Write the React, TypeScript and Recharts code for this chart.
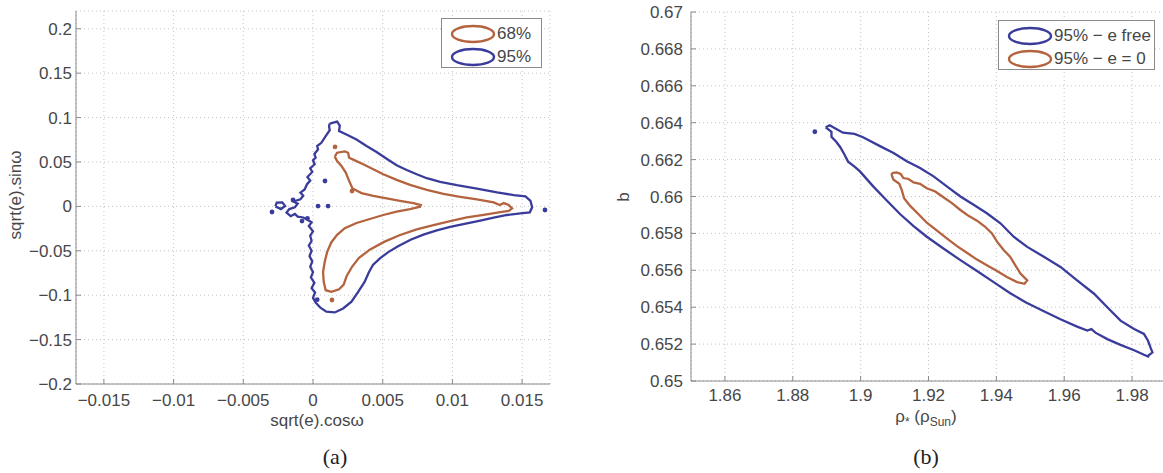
import React from "react";
import { ScatterChart, Scatter, XAxis, YAxis, CartesianGrid } from "recharts";

// ---- panel (a): eccentricity vector ----
const aXTicks = [-0.015, -0.01, -0.005, 0, 0.005, 0.01, 0.015];
const aYTicks = [-0.2, -0.15, -0.1, -0.05, 0, 0.05, 0.1, 0.15, 0.2];

// 95% contour (outer)
const a95: number[][] = [
  [0.0012, 0.0933], [0.00173, 0.0955], [0.00192, 0.091], [0.00187, 0.0847], [0.0024, 0.0809],
  [0.00312, 0.0753], [0.00384, 0.0679], [0.00456, 0.0612], [0.00528, 0.0537], [0.006, 0.0463],
  [0.00672, 0.041], [0.00744, 0.0362], [0.00816, 0.0317], [0.00912, 0.0276], [0.01032, 0.0239],
  [0.01176, 0.0201], [0.0132, 0.0157], [0.0144, 0.0127], [0.01524, 0.0112], [0.0156, 0.0063],
  [0.01572, -0.0011], [0.01555, -0.0067], [0.01488, -0.0078], [0.01392, -0.0097], [0.01296, -0.0127],
  [0.012, -0.016], [0.01104, -0.019], [0.00984, -0.023], [0.00888, -0.027], [0.00792, -0.0318],
  [0.007, -0.0375], [0.0061, -0.045], [0.0054, -0.0515], [0.0048, -0.0585], [0.0043, -0.066],
  [0.004, -0.0745], [0.0037, -0.085], [0.00324, -0.0962], [0.00276, -0.1074], [0.00216, -0.1149],
  [0.00156, -0.1194], [0.00096, -0.1186], [0.00053, -0.1141], [0.00019, -0.1082], [0.0, -0.103],
  [0.00015, -0.097], [-0.0001, -0.092], [0.0001, -0.086], [-0.00015, -0.08], [0.0, -0.074],
  [-0.0002, -0.068], [-0.00005, -0.062], [-0.00025, -0.056], [-0.0001, -0.05], [-0.0003, -0.044],
  [-0.0001, -0.039], [-0.0002, -0.033], [0.0, -0.028], [-0.0003, -0.022], [-0.0001, -0.018],
  [-0.0004, -0.015], [-0.0007, -0.0125], [-0.0011, -0.0115], [-0.0013, -0.0085], [-0.0016, -0.011],
  [-0.0019, -0.007], [-0.0017, -0.003], [-0.0013, -0.001], [-0.0011, 0.003], [-0.0014, 0.0055],
  [-0.0009, 0.008], [-0.0007, 0.012], [-0.0009, 0.0155], [-0.0006, 0.019], [-0.00043, 0.025],
  [-0.0002, 0.029], [-0.0004, 0.033], [-0.00005, 0.0388], [-0.0002, 0.043], [0.00012, 0.0474],
  [0.0, 0.052], [0.00019, 0.0548], [0.0001, 0.059], [0.00036, 0.0642], [0.0003, 0.068],
  [0.0006, 0.0716], [0.00091, 0.0791], [0.0012, 0.0858], [0.00115, 0.0903],
];

// small detached 95% island on the left
const a95Island: number[][] = [
  [-0.0027, 0.0], [-0.0026, 0.0042], [-0.0022, 0.0045], [-0.002, 0.0005], [-0.0023, -0.003],
];

const a95Dots: number[][] = [
  [-0.00294, -0.0063], [0.00086, 0.0286], [0.00036, 0.0003], [0.00108, 0.0003], [-0.00079, -0.0165],
  [-0.00143, 0.0072], [0.0003, -0.105], [0.01664, -0.0041], [-0.0004, -0.0135],
];

// 68% contour (inner)
const a68: number[][] = [
  [0.00156, 0.056], [0.00173, 0.0604], [0.00228, 0.0619], [0.00252, 0.0604], [0.00259, 0.0548],
  [0.003, 0.0518], [0.0036, 0.0474], [0.00432, 0.0418], [0.00504, 0.0362], [0.006, 0.0298],
  [0.00696, 0.0242], [0.00816, 0.0187], [0.00936, 0.0142], [0.01056, 0.0108], [0.01176, 0.0078],
  [0.01296, 0.0045], [0.01339, 0.0015], [0.01368, 0.0037], [0.01404, 0.0015], [0.01428, -0.0022],
  [0.01404, -0.0052], [0.01332, -0.0067], [0.01224, -0.0095], [0.01104, -0.0125], [0.00984, -0.0165],
  [0.00864, -0.021], [0.00744, -0.026], [0.0062, -0.0325], [0.0051, -0.04], [0.0041, -0.0485],
  [0.0033, -0.058], [0.0028, -0.068], [0.0024, -0.079], [0.0022, -0.088], [0.00187, -0.0933],
  [0.00132, -0.0962], [0.00091, -0.0944], [0.00077, -0.085], [0.00072, -0.0739], [0.00084, -0.0627],
  [0.00101, -0.0515], [0.00132, -0.0403], [0.00173, -0.0321], [0.00228, -0.0246], [0.00312, -0.0187],
  [0.00408, -0.0142], [0.00504, -0.0097], [0.006, -0.006], [0.00696, -0.003], [0.00768, -0.0004],
  [0.00773, 0.0015], [0.0072, 0.0037], [0.00624, 0.0063], [0.00528, 0.009], [0.00432, 0.0119],
  [0.00348, 0.0149], [0.00283, 0.0201], [0.00259, 0.0287], [0.00235, 0.038], [0.00204, 0.0455],
  [0.00173, 0.0511],
];

const a68Dots: number[][] = [[0.00158, 0.067], [0.0028, 0.0173], [0.00136, -0.1054]];

// ---- panel (b): stellar density vs impact parameter ----
const bXTicks = [1.86, 1.88, 1.9, 1.92, 1.94, 1.96, 1.98];
const bYTicks = [0.65, 0.652, 0.654, 0.656, 0.658, 0.66, 0.662, 0.664, 0.666, 0.668, 0.67];

// 95%, eccentricity free
const bFree: number[][] = [
  [1.8897, 0.66375], [1.8909, 0.66386], [1.8919, 0.66375], [1.8948, 0.66346], [1.8982, 0.66339],
  [1.9007, 0.66321], [1.9057, 0.66273], [1.9097, 0.66236], [1.9136, 0.66191], [1.9175, 0.66155],
  [1.9215, 0.66109], [1.9254, 0.66055], [1.9294, 0.66], [1.9333, 0.65955], [1.9372, 0.65909],
  [1.9412, 0.65855], [1.9451, 0.65782], [1.9491, 0.65727], [1.954, 0.65673], [1.9589, 0.65618],
  [1.9638, 0.65545], [1.9688, 0.65473], [1.9727, 0.654], [1.9766, 0.65327], [1.9806, 0.65282],
  [1.9835, 0.65255], [1.9847, 0.65218], [1.9855, 0.65178], [1.986, 0.65155], [1.9847, 0.65136],
  [1.985, 0.65131], [1.9835, 0.65142], [1.9806, 0.65167], [1.9766, 0.65196], [1.9727, 0.65227],
  [1.9692, 0.65262], [1.968, 0.65282], [1.9668, 0.65273], [1.9638, 0.65295], [1.9589, 0.65335],
  [1.954, 0.65378], [1.9486, 0.65427], [1.9441, 0.65476], [1.9392, 0.65536], [1.9343, 0.65596],
  [1.9294, 0.65655], [1.9244, 0.65718], [1.9195, 0.65782], [1.9156, 0.6584], [1.9116, 0.65905],
  [1.9077, 0.65978], [1.9037, 0.66055], [1.8998, 0.66136], [1.8982, 0.66162], [1.8963, 0.66189],
  [1.8953, 0.66225], [1.894, 0.66267], [1.8928, 0.66297], [1.8914, 0.66324], [1.8914, 0.66351],
];

const bFreeDots: number[][] = [[1.8865, 0.66351]];

// 95%, e = 0
const bCirc: number[][] = [
  [1.9092, 0.66127], [1.9106, 0.66131], [1.9118, 0.66122], [1.9126, 0.661], [1.9141, 0.66095],
  [1.9156, 0.66076], [1.9175, 0.66069], [1.9195, 0.66045], [1.922, 0.66027], [1.9244, 0.65996],
  [1.9269, 0.65964], [1.9294, 0.65927], [1.9318, 0.65895], [1.9343, 0.65869], [1.9367, 0.65836],
  [1.9387, 0.658], [1.9402, 0.65755], [1.9422, 0.65709], [1.9441, 0.65673], [1.9456, 0.65627],
  [1.9471, 0.65582], [1.9491, 0.65545], [1.9483, 0.65527], [1.9461, 0.65536], [1.9431, 0.65564],
  [1.9402, 0.65596], [1.9372, 0.65627], [1.9343, 0.65658], [1.9313, 0.65695], [1.9284, 0.65731],
  [1.9254, 0.65773], [1.9225, 0.65815], [1.9195, 0.65858], [1.917, 0.65905], [1.9146, 0.65949],
  [1.9128, 0.65991], [1.9121, 0.66036], [1.9114, 0.66069], [1.9097, 0.66091], [1.9092, 0.66113],
];

const BLUE = "#3a3c9b";
const BROWN = "#b4633f";
const AXIS = "#8a8a8a";
const FONT = '"Liberation Sans", Arial, Helvetica, sans-serif';

const closed = (c: number[][]) => [...c, c[0]].map(([x, y]) => ({ x, y }));
const open = (c: number[][]) => c.map(([x, y]) => ({ x, y }));
const fmt = (v: number) => String(v).replace("-", "\u2212");

const noShape = () => <g />;
const dotShape = (color: string) => (p: any) => <circle cx={p.cx} cy={p.cy} r={2.4} fill={color} />;

// ticks point inward like a boxed axes frame
function tickFor(side: "bottom" | "top" | "left" | "right", labelGap = 0) {
  return (p: any) => {
    const { x, y, payload } = p;
    const len = 5;
    if (side === "bottom")
      return (
        <g>
          <line x1={x} y1={y} x2={x} y2={y - len} stroke={AXIS} />
          <text x={x} y={y + labelGap} textAnchor="middle" fontFamily={FONT} fontSize={17} fill="#474747">
            {fmt(payload.value)}
          </text>
        </g>
      );
    if (side === "left")
      return (
        <g>
          <line x1={x} y1={y} x2={x + len} y2={y} stroke={AXIS} />
          <text x={x - labelGap} y={y + 6} textAnchor="end" fontFamily={FONT} fontSize={17} fill="#474747">
            {fmt(payload.value)}
          </text>
        </g>
      );
    if (side === "top") return <line x1={x} y1={y} x2={x} y2={y + len} stroke={AXIS} />;
    return <line x1={x} y1={y} x2={x - len} y2={y} stroke={AXIS} />;
  };
}

function Frame({ xDomain, yDomain, xTicks, yTicks, xLabelGap, yLabelGap, xHeight, yWidth }: any) {
  return [
    <CartesianGrid key="g" stroke="#c4c4c4" strokeDasharray="1 3" />,
    <XAxis key="xb" xAxisId={0} type="number" dataKey="x" domain={xDomain} ticks={xTicks} allowDataOverflow
      height={xHeight} tickSize={0} tickMargin={0} tickLine={false} axisLine={{ stroke: AXIS }}
      tick={tickFor("bottom", xLabelGap)} interval={0} />,
    <XAxis key="xt" xAxisId="top" orientation="top" type="number" domain={xDomain} ticks={xTicks}
      allowDataOverflow height={0} tickSize={0} tickMargin={0} tickLine={false} axisLine={{ stroke: AXIS }}
      tick={tickFor("top")} interval={0} />,
    <YAxis key="yl" yAxisId={0} type="number" dataKey="y" domain={yDomain} ticks={yTicks} allowDataOverflow
      width={yWidth} tickSize={0} tickMargin={0} tickLine={false} axisLine={{ stroke: AXIS }}
      tick={tickFor("left", yLabelGap)} interval={0} />,
    <YAxis key="yr" yAxisId="right" orientation="right" type="number" domain={yDomain} ticks={yTicks}
      allowDataOverflow width={0} tickSize={0} tickMargin={0} tickLine={false} axisLine={{ stroke: AXIS }}
      tick={tickFor("right")} interval={0} />,
  ];
}

const abs = (left: number, top: number, extra: React.CSSProperties = {}): React.CSSProperties => ({
  position: "absolute",
  left,
  top,
  transform: "translate(-50%, -50%)",
  whiteSpace: "nowrap",
  fontFamily: FONT,
  fontSize: 17,
  color: "#474747",
  lineHeight: 1,
  ...extra,
});

function LegendBox({ left, top, width, items }: { left: number; top: number; width: number; items: { label: string; color: string }[] }) {
  return (
    <div style={{ position: "absolute", left, top, width, height: 50, boxSizing: "border-box", border: `1px solid ${AXIS}`, background: "#fff" }}>
      {items.map((it, i) => (
        <div key={it.label} style={{ position: "absolute", left: 8, top: 4 + i * 23, height: 22, display: "flex", alignItems: "center" }}>
          <svg width={46} height={22}>
            <ellipse cx={23} cy={11} rx={21} ry={8} fill="none" stroke={it.color} strokeWidth={2.4} />
          </svg>
          <span style={{ fontFamily: FONT, fontSize: 17, color: "#474747", marginLeft: 1 }}>{it.label}</span>
        </div>
      ))}
    </div>
  );
}

const legendA = [
  { label: "68%", color: BROWN },
  { label: "95%", color: BLUE },
];
const legendB = [
  { label: "95% \u2212 e free", color: BLUE },
  { label: "95% \u2212 e = 0", color: BROWN },
];

export default function App() {
  return (
    <div style={{ position: "absolute", left: 0, top: 0, width: 1163, height: 473, overflow: "hidden", background: "#fff" }}>
      <div style={{ position: "absolute", left: 0, top: 0 }}>
        <ScatterChart width={580} height={473} margin={{ top: 11, right: 30, bottom: 0, left: 0 }}>
          {Frame({ xDomain: [-0.017, 0.017], yDomain: [-0.2, 0.22], xTicks: aXTicks, yTicks: aYTicks, xLabelGap: 22, yLabelGap: 4, xHeight: 89, yWidth: 76 })}
          <Scatter data={closed(a95)} line={{ stroke: BLUE, strokeWidth: 2.3 }} shape={noShape} isAnimationActive={false} />
          <Scatter data={closed(a95Island)} line={{ stroke: BLUE, strokeWidth: 2.3 }} shape={noShape} isAnimationActive={false} />
          <Scatter data={open(a95Dots)} shape={dotShape(BLUE)} isAnimationActive={false} />
          <Scatter data={closed(a68)} line={{ stroke: BROWN, strokeWidth: 2.3 }} shape={noShape} isAnimationActive={false} />
          <Scatter data={open(a68Dots)} shape={dotShape(BROWN)} isAnimationActive={false} />
        </ScatterChart>
      </div>
      <div style={{ position: "absolute", left: 600, top: 0 }}>
        <ScatterChart width={580} height={473} margin={{ top: 12, right: 14, bottom: 0, left: 0 }}>
          {Frame({ xDomain: [1.85, 1.99], yDomain: [0.65, 0.67], xTicks: bXTicks, yTicks: bYTicks, xLabelGap: 20, yLabelGap: 8, xHeight: 92, yWidth: 91 })}
          <Scatter data={closed(bFree)} line={{ stroke: BLUE, strokeWidth: 2.3 }} shape={noShape} isAnimationActive={false} />
          <Scatter data={open(bFreeDots)} shape={dotShape(BLUE)} isAnimationActive={false} />
          <Scatter data={closed(bCirc)} line={{ stroke: BROWN, strokeWidth: 2.3 }} shape={noShape} isAnimationActive={false} />
        </ScatterChart>
      </div>

      <LegendBox left={441} top={18} width={101} items={legendA} />
      <LegendBox left={998} top={20} width={157} items={legendB} />

      <div style={abs(317, 420)}>sqrt(e).cos&omega;</div>
      <div style={abs(15, 195, { transform: "translate(-50%, -50%) rotate(-90deg)" })}>sqrt(e).sin&omega;</div>
      <div style={abs(926, 418)}>
        &rho;<sub style={{ fontSize: 12 }}>*</sub> (&rho;<sub style={{ fontSize: 12 }}>Sun</sub>)
      </div>
      <div style={abs(623, 197, { transform: "translate(-50%, -50%) rotate(-90deg)" })}>b</div>

      <div style={abs(335, 457, { fontFamily: '"Liberation Serif", "Times New Roman", serif', fontSize: 22, color: "#222" })}>(a)</div>
      <div style={abs(926, 457, { fontFamily: '"Liberation Serif", "Times New Roman", serif', fontSize: 22, color: "#222" })}>(b)</div>
    </div>
  );
}
